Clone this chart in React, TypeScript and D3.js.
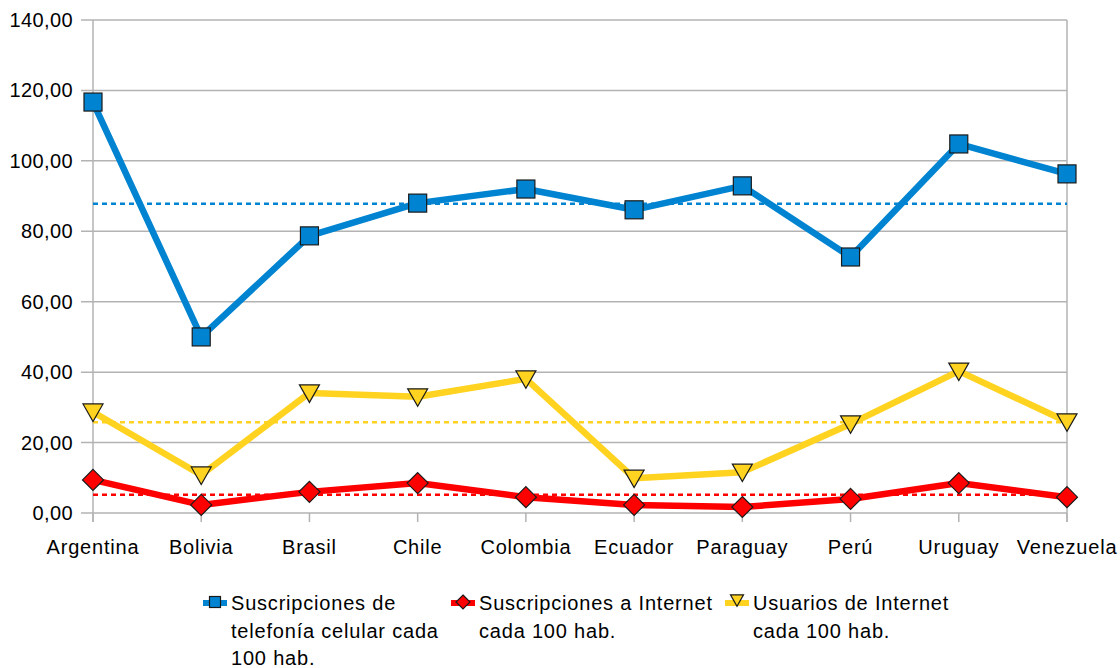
import React from "react";
import * as d3 from "d3";

const categories = ["Argentina", "Bolivia", "Brasil", "Chile", "Colombia", "Ecuador", "Paraguay", "Perú", "Uruguay", "Venezuela"];
const celular = [116.7, 50.0, 78.7, 88.0, 92.0, 86.1, 92.9, 72.7, 104.8, 96.3];
const usuarios = [28.7, 10.8, 34.1, 33.0, 38.1, 9.9, 11.6, 25.3, 40.3, 25.9];
const suscInternet = [9.4, 2.3, 6.0, 8.5, 4.5, 2.3, 1.7, 4.0, 8.5, 4.5];
const yTicks = [0, 20, 40, 60, 80, 100, 120, 140];

const W = 1120, H = 668;
const left = 93, right = 1067, top = 20, bottom = 513;
const FONT = "'Liberation Sans', Arial, sans-serif";

const avg = (a: number[]) => d3.mean(a) as number;

export default function App() {
  const x = d3.scalePoint<string>().domain(categories).range([left, right]);
  const y = d3.scaleLinear().domain([0, 140]).range([bottom, top]);
  const line = d3.line<number>().x((_, i) => x(categories[i]) as number).y((d) => y(d));
  const fmt = (v: number) => v.toFixed(2).replace(".", ",");

  const series = [
    { name: ["Suscripciones de", "telefonía celular cada", "100 hab."], data: celular, color: "#0084d1", marker: "square", lx: 215 },
    { name: ["Suscripciones a Internet", "cada 100 hab."], data: suscInternet, color: "#ff0000", marker: "diamond", lx: 463 },
    { name: ["Usuarios de Internet", "cada 100 hab."], data: usuarios, color: "#ffd320", marker: "triangle", lx: 737 },
  ];

  const marker = (type: string, cx: number, cy: number, color: string, s: number, key?: any) => {
    if (type === "square")
      return <rect key={key} x={cx - s / 2} y={cy - s / 2} width={s} height={s} fill={color} stroke="#1a1a1a" strokeWidth={1.2} />;
    if (type === "diamond") {
      const r = s / 2 + 1.5;
      return <path key={key} d={`M${cx},${cy - r}L${cx + r},${cy}L${cx},${cy + r}L${cx - r},${cy}Z`} fill={color} stroke="#1a1a1a" strokeWidth={1.2} />;
    }
    const h = s / 2 + 1;
    return <path key={key} d={`M${cx - h},${cy - h * 0.8}L${cx + h},${cy - h * 0.8}L${cx},${cy + h * 0.95}Z`} fill={color} stroke="#1a1a1a" strokeWidth={1.2} />;
  };

  const drawOrder = [series[0], series[2], series[1]];

  return (
    <svg width={W} height={H} style={{ position: "absolute", left: 0, top: 0, background: "#fff" }} fontFamily={FONT}>
      {yTicks.map((t) => (
        <g key={t}>
          <line x1={81} x2={right} y1={y(t)} y2={y(t)} stroke="#b3b3b3" strokeWidth={1.5} />
          <text x={73} y={y(t) + 7} textAnchor="end" fontSize={20} letterSpacing={0.4} fill="#000">{fmt(t)}</text>
        </g>
      ))}
      <line x1={left} x2={left} y1={top} y2={bottom + 9} stroke="#b3b3b3" strokeWidth={1.5} />
      <line x1={right} x2={right} y1={top} y2={bottom + 9} stroke="#b3b3b3" strokeWidth={1.5} />
      {categories.map((c) => (
        <g key={c}>
          <line x1={x(c)} x2={x(c)} y1={bottom} y2={bottom + 9} stroke="#b3b3b3" strokeWidth={1.5} />
          <text x={x(c)} y={554} textAnchor="middle" fontSize={20} letterSpacing={0.8} fill="#000">{c}</text>
        </g>
      ))}
      {series.map((s) => (
        <line key={"avg" + s.color} x1={left} x2={right} y1={y(avg(s.data))} y2={y(avg(s.data))} stroke={s.color} strokeWidth={2.5} strokeDasharray="5,4" />
      ))}
      {drawOrder.map((s) => (
        <g key={s.color}>
          <path d={line(s.data) as string} fill="none" stroke={s.color} strokeWidth={6.5} strokeLinejoin="round" />
          {s.data.map((v, i) => marker(s.marker, x(categories[i]) as number, y(v), s.color, 18, i))}
        </g>
      ))}
      {series.map((s) => (
        <g key={"lg" + s.color}>
          <line x1={s.lx - 12} x2={s.lx + 12} y1={603} y2={603} stroke={s.color} strokeWidth={6} />
          {marker(s.marker, s.lx, s.marker === "triangle" ? 600 : 602, s.color, 11)}
          {s.name.map((ln, j) => (
            <text key={j} x={s.lx + 16} y={610 + j * 27.5} fontSize={20} letterSpacing={0.8} fill="#000">{ln}</text>
          ))}
        </g>
      ))}
    </svg>
  );
}
